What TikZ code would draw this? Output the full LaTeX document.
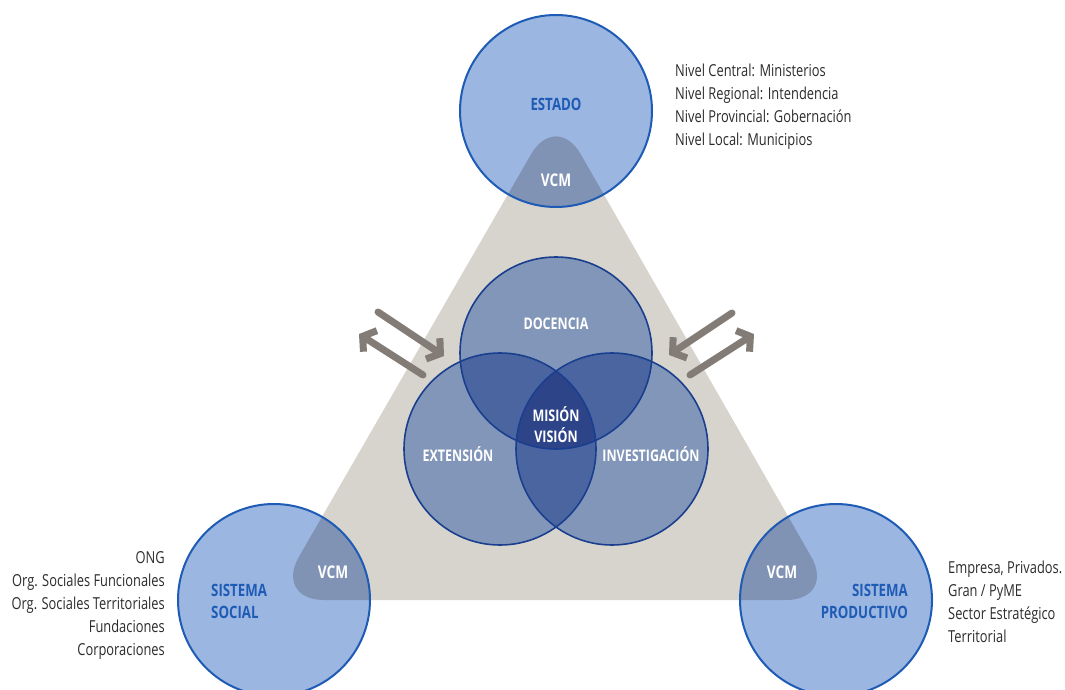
\documentclass[tikz,border=0pt]{standalone}
\usepackage{fontspec}
\setmainfont{Open Sans}[FakeStretch=0.78]
\usetikzlibrary{arrows.meta}
\definecolor{tri}{HTML}{D7D3CD}
\definecolor{lightblue}{HTML}{9CB6E2}
\definecolor{blueline}{HTML}{1E5BB4}
\definecolor{overlap}{HTML}{8193B4}
\definecolor{venn1}{HTML}{8196B8}
\definecolor{venn2}{HTML}{4B65A0}
\definecolor{venn3}{HTML}{2E4489}
\definecolor{vennline}{HTML}{1A3F8E}
\definecolor{arrowgray}{HTML}{837C76}
\definecolor{txt}{HTML}{2B2B2B}
\tikzset{
  lbl/.style={font=\fontsize{16.5}{23}\selectfont, text=txt, inner sep=0pt},
  bluelbl/.style={font=\bfseries\fontsize{17}{22}\selectfont, text=blueline, inner sep=0pt},
  whitelbl/.style={font=\bfseries\fontsize{16}{21}\selectfont, text=white, inner sep=0pt},
  vcmlbl/.style={font=\bfseries\fontsize{17.5}{21}\selectfont, text=white, inner sep=0pt},
  flow/.style={line width=7pt, draw=arrowgray, line cap=round, -{Straight Barb[length=9pt,width=25pt]}},
}
\newcommand{\tripath}{(555,600) -- (836,600) -- (556,111) -- (274,600) -- cycle}
\begin{document}
\begin{tikzpicture}[x=1pt,y=-1pt]
\useasboundingbox (0,0) rectangle (1065,690);
% triangle
\fill[tri, rounded corners=50pt] \tripath;
% outer circles
\foreach \cx/\cy in {556/111, 274/600, 836/600}{
  \fill[lightblue] (\cx,\cy) circle (96);
  \begin{scope}
    \clip (\cx,\cy) circle (96);
    \fill[overlap, rounded corners=50pt] \tripath;
  \end{scope}
  \draw[blueline, line width=2pt] (\cx,\cy) circle (96);
}
% venn
\def\ca{(556,353) circle (96)}
\def\cb{(500,449) circle (96)}
\def\cc{(612,449) circle (96)}
\fill[venn1] \ca; \fill[venn1] \cb; \fill[venn1] \cc;
\begin{scope}\clip \ca; \fill[venn2] \cb; \fill[venn2] \cc; \end{scope}
\begin{scope}\clip \cb; \fill[venn2] \cc; \end{scope}
\begin{scope}\clip \ca; \clip \cb; \fill[venn3] \cc; \end{scope}
\draw[vennline, line width=1.6pt] \ca; \draw[vennline, line width=1.6pt] \cb; \draw[vennline, line width=1.6pt] \cc;
% arrows
\coordinate (la1) at (378,312); \coordinate (la2) at (444,356);
\coordinate (lb1) at (423,375); \coordinate (lb2) at (359,334);
\coordinate (ra1) at (732,313); \coordinate (ra2) at (669,355);
\coordinate (rb1) at (690,375); \coordinate (rb2) at (754,334);
\draw[flow] (la1) -- (la2);
\draw[flow] (lb1) -- (lb2);
\draw[flow] (ra1) -- (ra2);
\draw[flow] (rb1) -- (rb2);
% labels
\node[bluelbl] (estado) at (556,104) {ESTADO};
\node[vcmlbl] (vcm1) at (556,180) {VCM};
\node[vcmlbl] (vcm2) at (333,572) {VCM};
\node[vcmlbl] (vcm3) at (782,572) {VCM};
\node[bluelbl, anchor=west, align=left] (social) at (211,601) {SISTEMA\\SOCIAL};
\node[bluelbl, anchor=east, align=right] (prod) at (908,601) {SISTEMA\\PRODUCTIVO};
\node[whitelbl] (docencia) at (556,324) {DOCENCIA};
\node[whitelbl, align=center] (mision) at (556,425) {MISIÓN\\VISIÓN};
\node[whitelbl] (extension) at (458,454) {EXTENSIÓN};
\node[whitelbl] (invest) at (651,454) {INVESTIGACIÓN};
\node[lbl, anchor=north west, align=left] (estlist) at (675,64) {Nivel Central: Ministerios\\Nivel Regional: Intendencia\\Nivel Provincial: Gobernación\\Nivel Local: Municipios};
\node[lbl, anchor=north east, align=right] (soclist) at (165,551) {ONG\\Org. Sociales Funcionales\\Org. Sociales Territoriales\\Fundaciones\\Corporaciones};
\node[lbl, anchor=north west, align=left] (prodlist) at (948,561) {Empresa, Privados.\\Gran / PyME\\Sector Estratégico\\Territorial};
\end{tikzpicture}
\end{document}
